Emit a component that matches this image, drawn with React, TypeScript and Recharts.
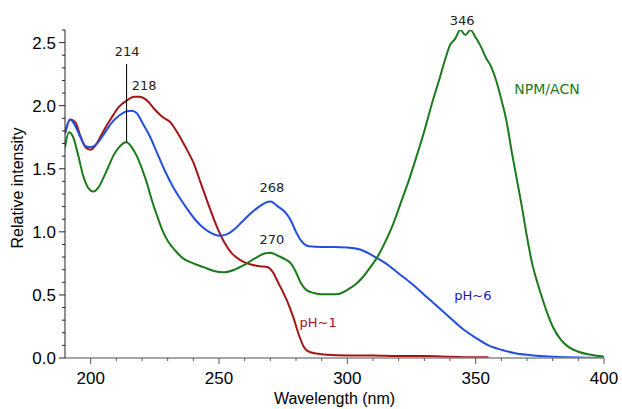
import { LineChart, Line, XAxis, YAxis, ReferenceLine, ReferenceDot } from 'recharts';

// pH~1 (red)
const redWl = [190, 192, 194, 196, 198, 200, 202, 205, 208, 211, 214, 217, 219, 222, 225, 228, 231, 234, 237, 240, 243, 246, 249, 252, 255, 258, 261, 265, 269, 271, 273, 275, 277, 279, 281, 283, 285, 288, 292, 300, 310, 320, 330, 340, 350, 355];
const redVal = [1.78, 1.89, 1.87, 1.76, 1.67, 1.65, 1.69, 1.8, 1.9, 1.99, 2.04, 2.07, 2.07, 2.04, 1.97, 1.91, 1.87, 1.78, 1.67, 1.55, 1.38, 1.21, 1.05, 0.92, 0.83, 0.78, 0.75, 0.73, 0.72, 0.68, 0.6, 0.52, 0.43, 0.32, 0.19, 0.09, 0.05, 0.035, 0.025, 0.02, 0.02, 0.015, 0.015, 0.01, 0.005, 0.005];

// pH~6 (blue)
const blueWl = [190, 192, 194, 196, 198, 200, 202, 205, 208, 211, 214, 216, 218, 220, 223, 226, 229, 232, 235, 238, 241, 244, 247, 250, 253, 256, 259, 262, 265, 268, 270, 273, 276, 278, 280, 282, 285, 290, 295, 300, 305, 310, 315, 320, 325, 330, 335, 340, 345, 350, 355, 360, 365, 370, 375, 380, 390, 400];
const blueVal = [1.78, 1.89, 1.84, 1.75, 1.68, 1.67, 1.69, 1.77, 1.86, 1.92, 1.955, 1.96, 1.94, 1.87, 1.76, 1.62, 1.48, 1.36, 1.26, 1.17, 1.09, 1.03, 0.99, 0.97, 0.98, 1.02, 1.08, 1.14, 1.19, 1.23, 1.24, 1.2, 1.15, 1.09, 1.0, 0.93, 0.885, 0.88, 0.88, 0.875, 0.86, 0.81, 0.75, 0.67, 0.59, 0.5, 0.41, 0.32, 0.23, 0.16, 0.1, 0.065, 0.04, 0.025, 0.015, 0.01, 0.003, 0];

// NPM/ACN (green)
const greenWl = [190, 191.5, 193, 195, 197, 199, 201, 203, 205, 207, 209, 211, 214, 216, 218, 220, 222, 224, 226, 228, 230, 233, 236, 240, 244, 248, 252, 256, 260, 264, 268, 270, 273, 276, 278, 280, 282, 284, 287, 290, 294, 297, 300, 303, 306, 309, 312, 315, 318, 321, 324, 327, 330, 333, 336, 338, 340, 342, 344, 346, 348, 350, 352, 354, 356, 358, 360, 362, 364, 366, 368, 370, 372, 374, 376, 378, 380, 383, 386, 390, 395, 400];
const greenVal = [1.67, 1.79, 1.76, 1.62, 1.45, 1.35, 1.32, 1.35, 1.43, 1.52, 1.61, 1.67, 1.71, 1.67, 1.6, 1.5, 1.38, 1.24, 1.12, 1.01, 0.93, 0.85, 0.79, 0.75, 0.72, 0.69, 0.68, 0.7, 0.74, 0.79, 0.83, 0.835, 0.81, 0.78, 0.75, 0.68, 0.59, 0.54, 0.515, 0.505, 0.505, 0.51, 0.54, 0.58, 0.64, 0.72, 0.81, 0.93, 1.07, 1.24, 1.41, 1.6, 1.8, 2.02, 2.22, 2.36, 2.48, 2.53, 2.6, 2.56, 2.6, 2.54, 2.47, 2.38, 2.31, 2.2, 2.05, 1.88, 1.64, 1.42, 1.2, 0.96, 0.75, 0.6, 0.47, 0.35, 0.25, 0.15, 0.09, 0.05, 0.025, 0.01];

const xTicks = [200, 210, 220, 230, 240, 250, 260, 270, 280, 290, 300, 310, 320, 330, 340, 350, 360, 370, 380, 390, 400];
const yTicks = [0, 0.1, 0.2, 0.3, 0.4, 0.5, 0.6, 0.7, 0.8, 0.9, 1.0, 1.1, 1.2, 1.3, 1.4, 1.5, 1.6, 1.7, 1.8, 1.9, 2.0, 2.1, 2.2, 2.3, 2.4, 2.5, 2.6];

const zip = (wl: number[], val: number[]) => wl.map((x, i) => ({ x, y: val[i] }));

const tickFont = '"Liberation Sans", Arial, sans-serif';
const noteFont = '"DejaVu Sans", Verdana, sans-serif';

function XTick(props: any) {
  const { x, y, payload } = props;
  const major = payload.value % 50 === 0;
  return (
    <g>
      <line x1={x} x2={x} y1={y} y2={y + (major ? 6 : 3)} stroke="#555" />
      {major && (
        <text x={x} y={y + 26} textAnchor="middle" fill="#000" fontSize={17} fontFamily={tickFont}>
          {payload.value}
        </text>
      )}
    </g>
  );
}

function YTick(props: any) {
  const { x, y, payload } = props;
  const v = Math.round(payload.value * 10);
  const major = v % 5 === 0;
  return (
    <g>
      <line x1={x} x2={x - (major ? 6 : 3)} y1={y} y2={y} stroke="#222" />
      {major && (
        <text x={x - 9} y={y + 6} textAnchor="end" fill="#000" fontSize={17} fontFamily={tickFont}>
          {(v / 10).toFixed(1)}
        </text>
      )}
    </g>
  );
}

function YTitle(props: any) {
  const { viewBox } = props;
  const x = viewBox.x + 8;
  const y = viewBox.y + viewBox.height / 2 - 6;
  return (
    <text x={x} y={y} transform={`rotate(-90 ${x} ${y})`} textAnchor="middle" fill="#000" fontSize={16} fontFamily={tickFont}>
      Relative intensity
    </text>
  );
}

const note = (value: string, fill = '#222', fontSize = 13) => ({
  value,
  position: 'center' as const,
  fill,
  fontSize,
  fontFamily: noteFont,
});

export default function App() {
  return (
    <div style={{ position: 'absolute', left: 0, top: 0, background: '#fff' }}>
      <LineChart width={622} height={409} margin={{ top: 30, right: 18, left: 15, bottom: 0 }}>
        <XAxis
          type="number"
          dataKey="x"
          domain={[190, 400]}
          ticks={xTicks}
          interval={0}
          allowDataOverflow
          tickSize={0}
          tickMargin={0}
          tick={<XTick />}
          axisLine={{ stroke: '#888', strokeWidth: 1.5 }}
          tickLine={false}
          height={51}
          label={{ value: 'Wavelength (nm)', position: 'insideBottom', offset: 5, fill: '#000', fontSize: 16, fontFamily: tickFont }}
        />
        <YAxis
          type="number"
          domain={[0, 2.6]}
          ticks={yTicks}
          interval={0}
          allowDataOverflow
          tickSize={0}
          tickMargin={0}
          tick={<YTick />}
          axisLine={{ stroke: '#222', strokeWidth: 1 }}
          tickLine={false}
          width={50}
          label={<YTitle />}
        />
        <Line data={zip(redWl, redVal)} dataKey="y" type="monotone" stroke="#a31414" strokeWidth={2} dot={false} isAnimationActive={false} />
        <Line data={zip(blueWl, blueVal)} dataKey="y" type="monotone" stroke="#1f4fdc" strokeWidth={2} dot={false} isAnimationActive={false} />
        <Line data={zip(greenWl, greenVal)} dataKey="y" type="monotone" stroke="#1b7a1b" strokeWidth={2} dot={false} isAnimationActive={false} />
        <ReferenceLine segment={[{ x: 214, y: 1.71 }, { x: 214, y: 2.33 }]} stroke="#000" strokeWidth={1} />
        <ReferenceDot x={214.2} y={2.43} r={0} ifOverflow="visible" label={note('214')} />
        <ReferenceDot x={220.8} y={2.16} r={0} ifOverflow="visible" label={note('218')} />
        <ReferenceDot x={270.6} y={1.35} r={0} ifOverflow="visible" label={note('268')} />
        <ReferenceDot x={270.6} y={0.94} r={0} ifOverflow="visible" label={note('270')} />
        <ReferenceDot x={344.7} y={2.68} r={0} ifOverflow="visible" label={note('346')} />
        <ReferenceDot x={377.8} y={2.13} r={0} ifOverflow="visible" label={note('NPM/ACN', '#1b7a1b', 14)} />
        <ReferenceDot x={348.9} y={0.5} r={0} ifOverflow="visible" label={note('pH~6', '#1a1aa8')} />
        <ReferenceDot x={288.6} y={0.28} r={0} ifOverflow="visible" label={note('pH~1', '#a31414')} />
      </LineChart>
    </div>
  );
}
